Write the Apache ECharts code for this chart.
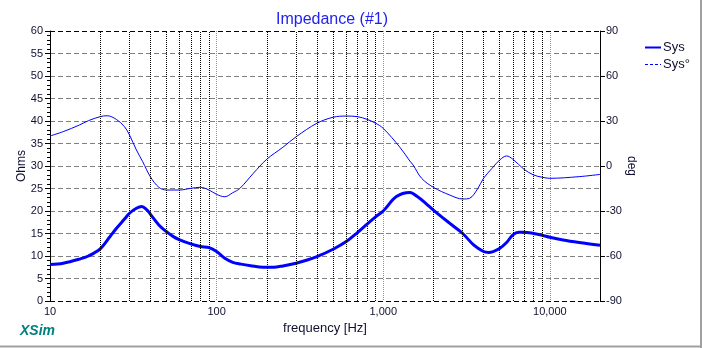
<!DOCTYPE html>
<html>
<head>
<meta charset="utf-8">
<script src="https://cdn.jsdelivr.net/npm/echarts@6/dist/echarts.min.js"></script>
<style>
  html, body { margin: 0; padding: 0; background: #fff; }
  #chart { width: 702px; height: 348px; }
</style>
</head>
<body>
<div id="chart"></div>
<script>
// Impedance magnitude (Ohms) sampled over frequency (Hz)
const magFreq = [10, 12, 15, 17, 20, 23, 25, 28, 30, 33, 35.5, 38, 40, 45, 50, 55, 60, 70, 80, 90,
  100, 112, 125, 140, 160, 190, 220, 250, 300, 350, 400, 500, 600, 700, 800, 900, 1000, 1200,
  1445, 1600, 1800, 2000, 2500, 3000, 3500, 4000, 4300, 5000, 5500, 6000, 6500, 7000, 8000,
  9000, 10000, 12000, 15000, 20000];
const magOhms = [8.1, 8.4, 9.3, 10.0, 11.6, 14.4, 16.1, 18.2, 19.5, 20.6, 21.0, 20.3, 19.3, 16.9, 15.4,
  14.3, 13.6, 12.7, 12.1, 11.85, 11.0, 9.5, 8.6, 8.2, 7.85, 7.5, 7.5, 7.8, 8.4, 9.1, 9.85, 11.5,
  13.2, 15.2, 17.1, 18.7, 20.0, 23.2, 24.1, 23.2, 21.7, 20.2, 17.3, 15.0, 12.4, 11.0, 10.8, 11.7,
  13.0, 14.7, 15.3, 15.3, 15.0, 14.6, 14.15, 13.55, 13.0, 12.4];

// Impedance phase (degrees)
const phaseFreq = [10, 12, 15, 17, 20, 22, 25, 28, 30, 33, 36, 40, 45, 50, 60, 70, 80, 90, 100, 112,
  125, 138, 166, 200, 250, 300, 400, 500, 600, 700, 800, 900, 1000, 1259, 1445, 1510, 1700, 2000,
  2500, 3000, 3300, 3700, 4000, 4500, 5000, 5500, 6000, 7000, 8000, 9000, 10000, 15000, 20000];
const phaseDeg = [20, 22.9, 27.3, 30.2, 32.9, 33.5, 31.1, 26.2, 20.7, 10.7, 2.9, -7.1, -14.2, -16, -16,
  -14.9, -14.2, -16, -18.9, -20.5, -17.8, -14.9, -4.9, 4.5, 12.5, 19.5, 28.5, 32.5, 33.3, 32.9,
  31.1, 28.5, 25.1, 12.5, 3.3, 0.7, -8.2, -14.2, -19.3, -22, -21.5, -14.9, -8.2, -1.5, 4, 6.7,
  4.5, -2.2, -6, -7.5, -8.2, -7.1, -5.6];

// Intermediate decade lines (2..9 x 10^n)
const minorFreqs = [20, 30, 40, 50, 60, 70, 80, 90, 200, 300, 400, 500, 600, 700, 800, 900,
  2000, 3000, 4000, 5000, 6000, 7000, 8000, 9000];

const FONT = 'Liberation Sans, Arial, sans-serif';
const BLUE = '#0000ff';

const chart = echarts.init(document.getElementById('chart'), null, { renderer: 'canvas' });

const magData = magFreq.map((f, i) => [f, magOhms[i]]);
const phaseData = phaseFreq.map((f, i) => [f, phaseDeg[i]]);

chart.setOption({
  animation: false,
  backgroundColor: '#fff',
  title: {
    text: 'Impedance (#1)',
    left: 271,
    top: 7,
    textStyle: { color: '#2222ee', fontFamily: FONT, fontSize: 16, fontWeight: 'normal' }
  },
  legend: {
    orient: 'vertical',
    left: 639,
    top: 36,
    itemWidth: 16,
    itemHeight: 8,
    itemGap: 4,
    itemStyle: { opacity: 0 },
    textStyle: { fontFamily: FONT, fontSize: 13, color: '#101030', padding: [0, 0, 0, -3] },
    data: [
      { name: 'Sys', itemStyle: { opacity: 0 } },
      { name: 'Sys°', itemStyle: { opacity: 0 }, lineStyle: { type: [3, 2], width: 1 } }
    ]
  },
  grid: { left: 50, right: 102, top: 31, bottom: 47, containLabel: false },
  xAxis: {
    type: 'log',
    logBase: 10,
    min: 10,
    max: 20000,
    name: 'frequency [Hz]',
    nameLocation: 'middle',
    nameGap: 20,
    nameTextStyle: { fontFamily: FONT, fontSize: 13, color: '#101030' },
    axisLine: { show: false },
    axisTick: { show: false },
    axisLabel: {
      fontFamily: FONT, fontSize: 11, color: '#101030', margin: 5,
      showMaxLabel: false,
      formatter: v => Math.round(v).toLocaleString('en-US')
    },
    splitLine: { show: true, lineStyle: { color: '#909090', type: [1, 1], width: 1 } }
  },
  yAxis: [
    {
      type: 'value',
      min: 0, max: 60, interval: 5,
      name: 'Ohms',
      nameLocation: 'middle',
      nameGap: 22,
      nameRotate: 90,
      nameMoveOverlap: false,
      nameTextStyle: { fontFamily: FONT, fontSize: 12, color: '#101030' },
      axisLine: { show: true, lineStyle: { color: '#000', width: 1 } },
      axisTick: { show: true, length: 5, lineStyle: { color: '#000' } },
      minorTick: { show: true, splitNumber: 5, length: 3, lineStyle: { color: '#000' } },
      axisLabel: { fontFamily: FONT, fontSize: 11, color: '#101030', margin: 7 },
      splitLine: { show: true, lineStyle: { color: '#808080', type: [5, 3], width: 1 } }
    },
    {
      type: 'value',
      position: 'right',
      min: -90, max: 90, interval: 30,
      name: 'deg',
      nameLocation: 'middle',
      nameGap: 25,
      nameRotate: -90,
      nameMoveOverlap: false,
      nameTextStyle: { fontFamily: FONT, fontSize: 12, color: '#101030' },
      axisLine: { show: true, lineStyle: { color: '#000', width: 1 } },
      axisTick: { show: true, length: 5, lineStyle: { color: '#000' } },
      axisLabel: { fontFamily: FONT, fontSize: 11, color: '#101030', margin: 6 },
      splitLine: { show: false }
    }
  ],
  series: [
    {
      // grid decorations: decade subdivisions and the top/bottom frame lines
      type: 'line',
      name: 'grid',
      data: [],
      silent: true,
      z: 1,
      markLine: {
        silent: true,
        symbol: ['none', 'none'],
        label: { show: false },
        animation: false,
        lineStyle: { color: '#000', type: [1, 1], width: 1 },
        data: minorFreqs.map(f => ({ xAxis: f })).concat([
          { yAxis: 0, lineStyle: { color: '#000', type: [5, 3], width: 1 } },
          { yAxis: 60, lineStyle: { color: '#000', type: [5, 3], width: 1 } }
        ])
      }
    },
    {
      name: 'Sys',
      type: 'line',
      yAxisIndex: 0,
      data: magData,
      smooth: 0.35,
      symbol: 'none',
      z: 3,
      lineStyle: { color: BLUE, width: 3 },
      itemStyle: { color: BLUE }
    },
    {
      name: 'Sys°',
      type: 'line',
      yAxisIndex: 1,
      data: phaseData,
      smooth: 0.35,
      symbol: 'none',
      z: 3,
      lineStyle: { color: BLUE, width: 1 },
      itemStyle: { color: BLUE }
    }
  ],
  graphic: [
    {
      type: 'text',
      left: 20,
      top: 324,
      style: {
        text: 'XSim',
        fill: '#008080',
        font: 'italic bold 14px ' + FONT
      }
    },
    {
      type: 'line',
      shape: { x1: 0, y1: 346.5, x2: 702, y2: 346.5 },
      style: { stroke: '#a0a0a0', lineWidth: 2 }
    },
    {
      type: 'line',
      shape: { x1: 701, y1: 0, x2: 701, y2: 348 },
      style: { stroke: '#a0a0a0', lineWidth: 2 }
    }
  ]
});
</script>
</body>
</html>
